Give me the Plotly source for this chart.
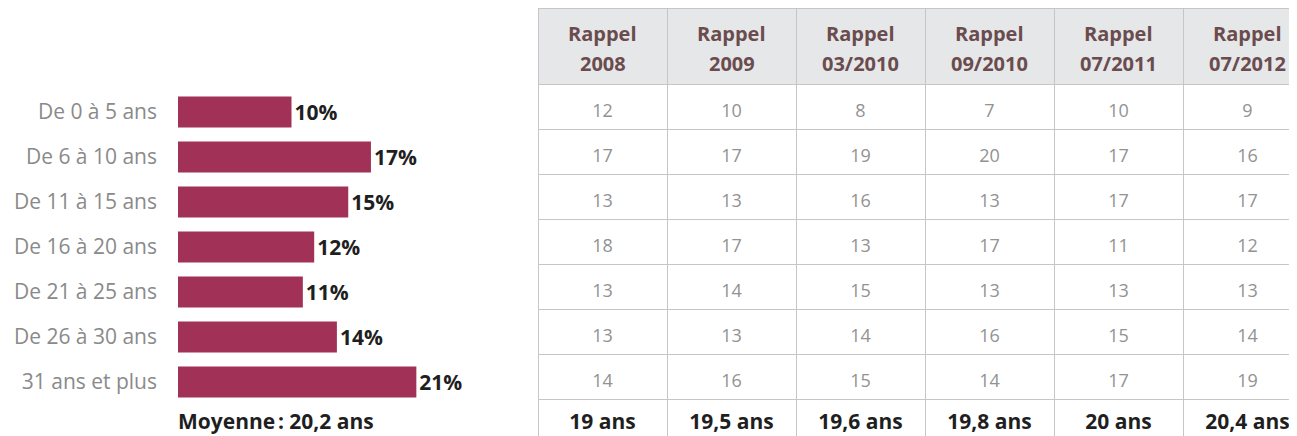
import plotly.graph_objects as go

# ---- data ----
age_groups = ["De 0 à 5 ans", "De 6 à 10 ans", "De 11 à 15 ans", "De 16 à 20 ans",
              "De 21 à 25 ans", "De 26 à 30 ans", "31 ans et plus"]
current_pct = [10, 17, 15, 12, 11, 14, 21]
current_mean = "20,2 ans"

recall_prefix = "Rappel"
recall_labels = ["2008", "2009", "03/2010", "09/2010", "07/2011", "07/2012"]
recall_2008 = [12, 17, 13, 18, 13, 13, 14]
recall_2009 = [10, 17, 13, 17, 14, 13, 16]
recall_03_2010 = [8, 19, 16, 13, 15, 14, 15]
recall_09_2010 = [7, 20, 13, 17, 13, 16, 14]
recall_07_2011 = [10, 17, 17, 11, 13, 15, 17]
recall_07_2012 = [9, 16, 17, 12, 13, 14, 19]
recall_means = ["19 ans", "19,5 ans", "19,6 ans", "19,8 ans", "20 ans", "20,4 ans"]
MEAN_ROW = "Moyenne"

# the page body adds an 8 px margin, so the figure is 8 px smaller on each axis
W, H = 1289, 428
FONT = "Open Sans"
BAR = "#a13157"
GRAY_TXT = "#8a8a8a"
NUM_TXT = "#929292"
DARK = "#1f1f1f"
HEAD_TXT = "#6b4c4e"
HEAD_FILL = "#e6e7e9"
LINE = "#c6c6c6"

PX_PER_PCT = 11.35
ROW = 45.0
HEADER_H = 76
TABLE_X0 = 530
COL_W = 129

fig = go.Figure()

# --- bars ---
fig.add_trace(go.Bar(
    x=current_pct, y=age_groups, orientation="h",
    marker=dict(color=BAR, line=dict(width=0)),
    width=0.69,
    text=[f"<b>{v}%</b>" for v in current_pct],
    textposition="outside", cliponaxis=False,
    textfont=dict(family=FONT, size=21, color=DARK),
    hoverinfo="skip",
))

# --- table grid + header fill ---
ncols = len(recall_labels)
fig.add_trace(go.Table(
    domain=dict(x=[TABLE_X0 / W, 1], y=[0, 1]),
    columnwidth=[COL_W] * (ncols - 1) + [W - TABLE_X0 - COL_W * (ncols - 1)],
    header=dict(
        values=[""] * ncols,
        fill=dict(color=HEAD_FILL),
        line=dict(color=LINE, width=1),
        align="center", height=HEADER_H,
    ),
    cells=dict(
        values=[[""] * (len(age_groups) + 1) for _ in range(ncols)],
        fill=dict(color="rgba(0,0,0,0)"),
        line=dict(color=LINE, width=1),
        align="center", height=ROW,
    ),
))

# --- header text (two lines per column) ---
for j, lab in enumerate(recall_labels):
    for line_name, txt in (("l1", recall_prefix), ("l2", lab)):
        fig.add_annotation(
            text=f"<b>{txt}</b>", x=j, xref="x2", y=line_name, yref="y3",
            showarrow=False, xanchor="center", yanchor="middle",
            font=dict(family=FONT, size=20, color=HEAD_TXT),
        )

# --- table numbers: same rows as the bars ---
cols = [recall_2008, recall_2009, recall_03_2010, recall_09_2010, recall_07_2011, recall_07_2012]
tx, ty, tt = [], [], []
for j, c in enumerate(cols):
    for i, v in enumerate(c):
        tx.append(j)
        ty.append(age_groups[i])
        tt.append(str(v))
fig.add_trace(go.Scatter(
    x=tx, y=ty, text=tt, mode="text", xaxis="x2", yaxis="y",
    textposition="middle center", cliponaxis=False,
    textfont=dict(family=FONT, size=18, color=NUM_TXT), hoverinfo="skip",
))
fig.add_trace(go.Scatter(
    x=list(range(ncols)), y=[MEAN_ROW] * ncols,
    text=[f"<b>{m}</b>" for m in recall_means],
    mode="text", xaxis="x2", yaxis="y2",
    textposition="middle center", cliponaxis=False,
    textfont=dict(family=FONT, size=21, color=DARK), hoverinfo="skip",
))

# --- overall mean under the bars ---
fig.add_trace(go.Scatter(
    x=[0], y=[MEAN_ROW], text=[f"<b>Moyenne\u202f: {current_mean}</b>"],
    mode="text", xaxis="x", yaxis="y2",
    textposition="middle right", cliponaxis=False,
    textfont=dict(family=FONT, size=21, color=DARK), hoverinfo="skip",
))

bar_top = HEADER_H + 5.5  # bar rows sit slightly below the table rows
n = len(age_groups)
rows_avail = (H - HEADER_H) / ROW
shift = 0.05
head_pitch = 30.0
head_top = -25.0 / head_pitch

fig.update_layout(
    width=W, height=H,
    margin=dict(l=0, r=0, t=0, b=0),
    paper_bgcolor="white", plot_bgcolor="rgba(0,0,0,0)",
    showlegend=False,
    font=dict(family=FONT),
    xaxis=dict(domain=[170 / W, 522 / W], range=[0, 352 / PX_PER_PCT],
               visible=False, fixedrange=True),
    yaxis=dict(domain=[1 - (bar_top + n * ROW) / H, 1 - bar_top / H],
               range=[n - 0.5, -0.5],
               showgrid=False, showline=False, zeroline=False,
               ticks="", ticklabelstandoff=20,
               tickfont=dict(family=FONT, size=21, color=GRAY_TXT),
               fixedrange=True),
    xaxis2=dict(domain=[TABLE_X0 / W, 1], anchor="y2",
                range=[-0.5, -0.5 + (W - TABLE_X0) / COL_W],
                visible=False, fixedrange=True),
    yaxis2=dict(domain=[0, 1 - HEADER_H / H], anchor="x2",
                type="category", categoryorder="array",
                categoryarray=age_groups + [MEAN_ROW],
                range=[-0.5 - shift + rows_avail, -0.5 - shift],
                visible=False, fixedrange=True),
    yaxis3=dict(domain=[1 - HEADER_H / H, 1], anchor="x2",
                type="category", categoryorder="array", categoryarray=["l1", "l2"],
                range=[head_top + HEADER_H / head_pitch, head_top],
                visible=False, fixedrange=True),
)

fig.write_html("out.html")
